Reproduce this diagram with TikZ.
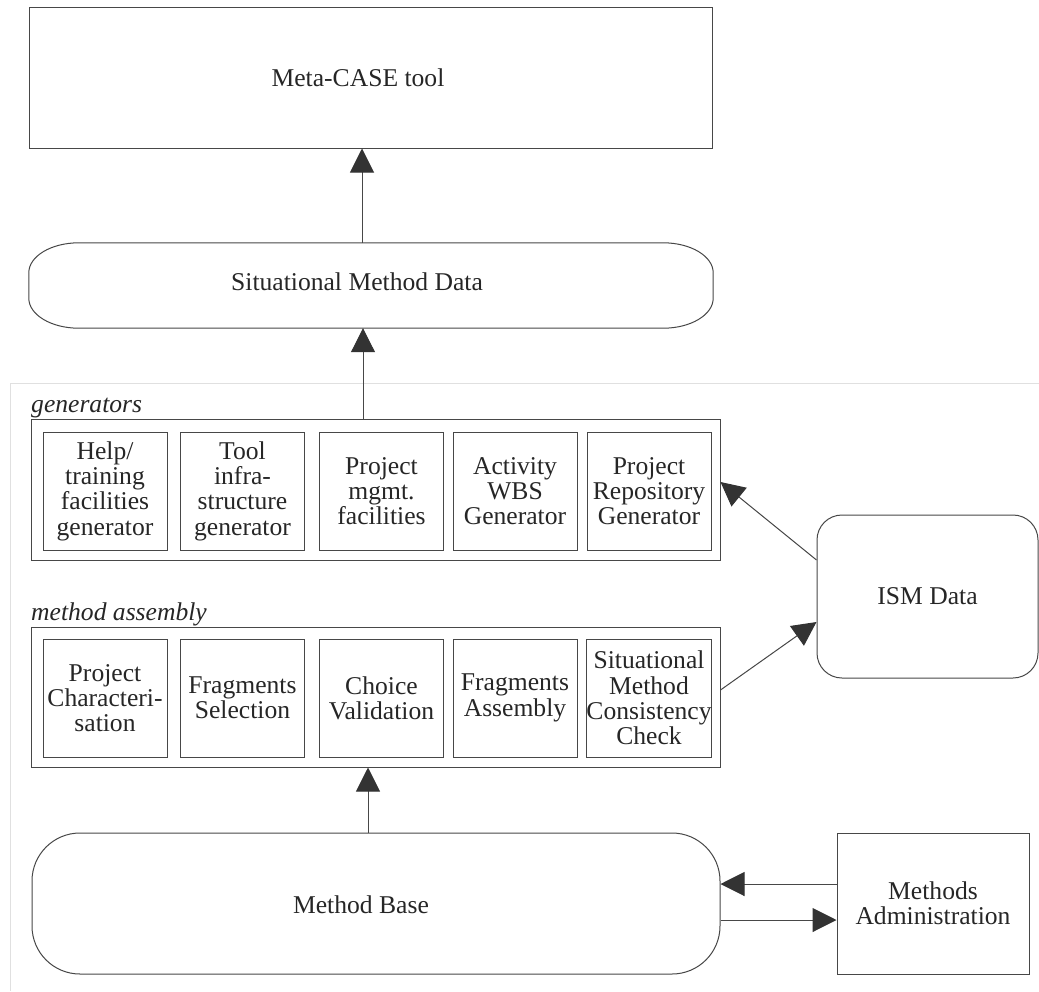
\documentclass[tikz,border=0pt]{standalone}
\usepackage{fontspec}
\setmainfont{Liberation Serif}
\usetikzlibrary{arrows.meta,calc}
\begin{document}
\begin{tikzpicture}[x=1pt,y=-1pt,
  every node/.style={font=\fontsize{25.6}{25.3}\selectfont, text=black!85},
  box/.style={draw=black!72, line width=1pt, rectangle, inner sep=0pt},
  inbox/.style={box, minimum width=124pt, minimum height=118pt, align=center},
  outbox/.style={box, minimum width=689pt, minimum height=141pt},
  plain/.style={inner sep=0pt},
  grouplabel/.style={inner sep=0pt, anchor=base west, font=\fontsize{25.6}{25.3}\selectfont\itshape},
  arr/.style={draw=black!72, line width=1pt, -{Triangle[length=24pt,width=24pt,color=black!80]}},
  frameline/.style={draw=black!12, line width=0.9pt}
]
\useasboundingbox (0,0) rectangle (1039,991);

% faint frame
\draw[frameline] (1039,383) -- (10,383) -- (10,991);

% Meta-CASE tool
\node[box, minimum width=683pt, minimum height=141pt] (meta) at (370.5,77.5) {};
\node[plain] (metatxt) at (358,78) {Meta-CASE tool};

% Situational Method Data (elliptical corners)
\node[plain, minimum width=684pt, minimum height=85pt] (smd) at (371,285.5) {};
\draw[draw=black!72, line width=1pt]
  ([xshift=50pt]smd.north west) -- ([xshift=-50pt]smd.north east)
  arc[start angle=90, end angle=0, x radius=50pt, y radius=30pt]
  -- ([yshift=30pt]smd.south east)
  arc[start angle=0, end angle=-90, x radius=50pt, y radius=30pt]
  -- ([xshift=50pt]smd.south west)
  arc[start angle=270, end angle=180, x radius=50pt, y radius=30pt]
  -- ([yshift=-30pt]smd.north west)
  arc[start angle=180, end angle=90, x radius=50pt, y radius=30pt]
  -- cycle;
\node[plain] (smdtxt) at (357,282) {Situational Method Data};

% generators
\node[grouplabel] (genlbl) at (31,412) {generators};
\node[outbox] (gen) at (375.5,489.5) {};
\node[inbox] (g1) at (105,491) {Help/\\training\\facilities\\generator};
\node[inbox] (g2) at (242.5,491) {Tool\\infra-\\structure\\generator};
\node[inbox] (g3) at (381.5,491) {Project\\mgmt.\\facilities};
\node[inbox] (g4) at (515,491) {Activity\\WBS\\Generator};
\node[inbox] (g5) at (649,491) {Project\\Repository\\Generator};

% method assembly
\node[grouplabel] (malbl) at (31,620) {method assembly};
\node[outbox, minimum height=140pt] (ma) at (375.5,697) {};
\node[inbox] (m1) at (105,698) {Project\\Characteri-\\sation};
\node[inbox] (m2) at (242.5,698) {Fragments\\Selection};
\node[inbox] (m3) at (381.5,698) {Choice\\Validation};
\node[inbox] (m4) at (515,698) {Fragments\\Assembly};
\node[inbox] (m5) at (649,698) {Situational\\Method\\Consistency\\Check};

% ISM Data
\node[box, rounded corners=25pt, minimum width=221pt, minimum height=163pt] (ism) at (927.5,596.5) {ISM Data};

% Method Base
\node[box, rounded corners=48pt, minimum width=688pt, minimum height=141pt] (mb) at (376,903.5) {};
\node[plain] (mbtxt) at (361,905) {Method Base};

% Methods Administration
\node[box, minimum width=192pt, minimum height=141pt, align=center] (adm) at (933,903.5) {Methods\\Administration};

% connectors
\coordinate (x1) at (362,0);
\coordinate (x2) at (363,0);
\coordinate (x3) at (368,0);
\draw[arr] (x1 |- smd.north) -- (x1 |- meta.south);
\draw[arr] (x2 |- gen.north) -- (x2 |- smd.south);
\draw[arr] (x3 |- mb.north) -- (x3 |- ma.south);
\draw[arr] ([yshift=36.5pt]ism.west) -- ([yshift=7.5pt]gen.east);
\draw[arr] ([yshift=7pt]ma.east) -- ([yshift=-25.5pt]ism.west);
\draw[arr] ([yshift=19.5pt]adm.west) -- ([yshift=19.5pt]mb.east);
\draw[arr] ([yshift=-16.5pt]mb.east) -- ([yshift=-16.5pt]adm.west);
\end{tikzpicture}
\end{document}
